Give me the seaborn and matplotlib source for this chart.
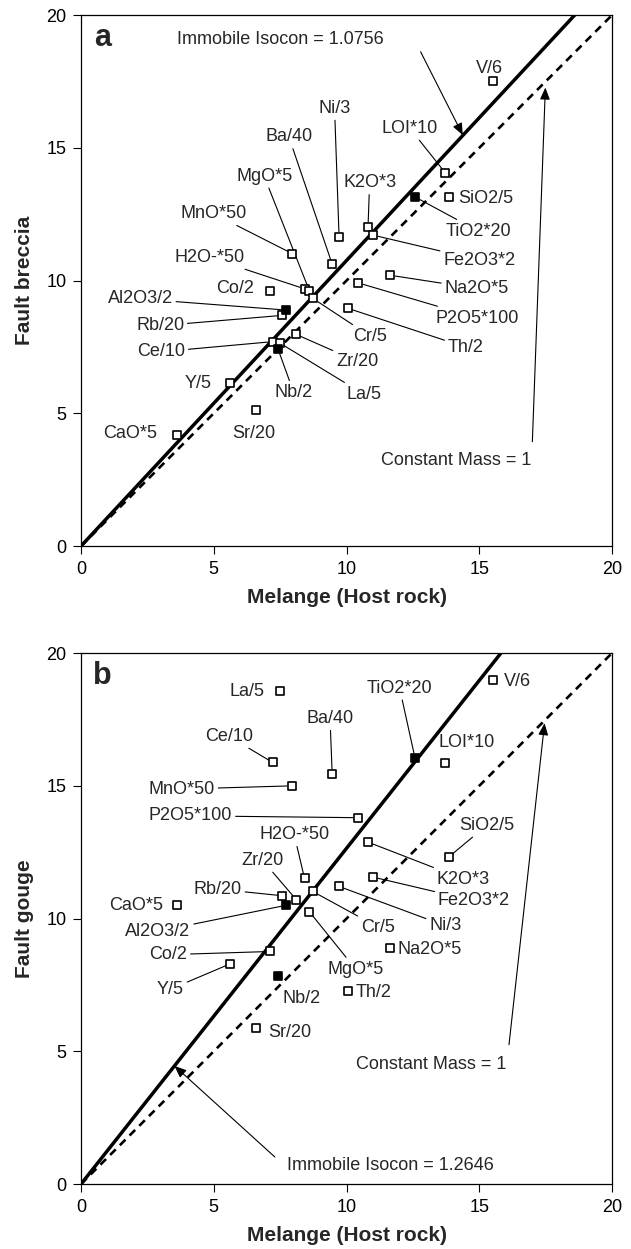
import numpy as np
import pandas as pd
import matplotlib
matplotlib.use("Agg")
import matplotlib.pyplot as plt
import seaborn as sns

# element labels (normalised concentrations)
elements = ["CaO*5", "Y/5", "Sr/20", "Co/2", "Ce/10", "Nb/2", "La/5", "Rb/20",
            "Al2O3/2", "MnO*50", "Zr/20", "H2O-*50", "MgO*5", "Cr/5", "Ba/40",
            "Ni/3", "Th/2", "P2O5*100", "K2O*3", "Fe2O3*2", "Na2O*5",
            "TiO2*20", "LOI*10", "SiO2/5", "V/6"]
# melange (host rock) values, shared by both panels
host = [3.62, 5.63, 6.60, 7.12, 7.22, 7.42, 7.50, 7.58, 7.72, 7.95, 8.11, 8.42,
        8.60, 8.73, 9.46, 9.72, 10.04, 10.45, 10.81, 11.01, 11.65, 12.58, 13.72,
        13.85, 15.50]
breccia = [4.20, 6.15, 5.11, 9.61, 7.70, 7.42, 7.64, 8.69, 8.89, 11.02, 7.97, 9.69,
           9.62, 9.33, 10.62, 11.65, 8.96, 9.91, 12.02, 11.71, 10.20, 13.15, 14.06,
           13.15, 17.51]
gouge = [10.51, 8.30, 5.86, 8.76, 15.88, 7.82, 18.59, 10.86, 10.50, 15.00, 10.71,
         11.51, 10.26, 11.02, 15.44, 11.21, 7.29, 13.80, 12.88, 11.56, 8.89, 16.05,
         15.86, 12.32, 19.00]
immobile = ["Al2O3/2", "Nb/2", "TiO2*20"]
isocon_a = 1.0756
isocon_b = 1.2646

df = pd.DataFrame({"element": elements, "host": host,
                   "breccia": breccia, "gouge": gouge})
df["immobile"] = df["element"].isin(immobile)

# label placement: element -> (x, y, ha, leader line)
labels_a = {
    "V/6": (15.37, 17.99, "center", False), "Ni/3": (9.55, 16.48, "center", True),
    "Ba/40": (7.83, 15.41, "center", True), "LOI*10": (12.39, 15.73, "center", True),
    "MgO*5": (6.9, 13.93, "center", True), "K2O*3": (10.87, 13.68, "center", True),
    "SiO2/5": (14.2, 13.1, "left", False), "MnO*50": (4.99, 12.52, "center", True),
    "TiO2*20": (14.97, 11.86, "center", True), "H2O-*50": (4.83, 10.87, "center", True),
    "Fe2O3*2": (15.0, 10.77, "center", True), "Co/2": (5.82, 9.7, "center", False),
    "Na2O*5": (14.9, 9.7, "center", True), "P2O5*100": (14.93, 8.59, "center", True),
    "Th/2": (14.49, 7.49, "center", True), "Al2O3/2": (2.23, 9.31, "center", True),
    "Rb/20": (2.98, 8.3, "center", True), "Ce/10": (3.02, 7.32, "center", True),
    "Cr/5": (10.9, 7.9, "center", True), "Zr/20": (10.4, 6.96, "center", True),
    "Y/5": (4.43, 6.14, "center", False), "Nb/2": (8.01, 5.79, "center", True),
    "La/5": (10.65, 5.72, "center", True), "Sr/20": (6.5, 4.25, "center", False),
    "CaO*5": (1.85, 4.24, "center", False),
}
labels_b = {
    "V/6": (15.94, 18.93, "left", False), "La/5": (6.24, 18.56, "center", False),
    "TiO2*20": (12.0, 18.68, "center", True), "Ba/40": (9.38, 17.53, "center", True),
    "Ce/10": (5.58, 16.86, "center", True), "LOI*10": (14.54, 16.64, "center", False),
    "MnO*50": (3.8, 14.88, "center", True), "P2O5*100": (4.13, 13.87, "center", True),
    "SiO2/5": (15.28, 13.51, "center", True), "H2O-*50": (8.03, 13.16, "center", True),
    "Zr/20": (6.84, 12.19, "center", True), "K2O*3": (14.4, 11.49, "center", True),
    "Rb/20": (5.15, 11.11, "center", True), "Fe2O3*2": (14.8, 10.67, "center", True),
    "CaO*5": (2.08, 10.48, "center", False), "Al2O3/2": (2.9, 9.52, "center", True),
    "Cr/5": (11.18, 9.68, "center", True), "Ni/3": (13.72, 9.73, "center", True),
    "MgO*5": (10.34, 8.1, "center", True), "Co/2": (3.29, 8.64, "center", True),
    "Na2O*5": (11.93, 8.85, "left", False), "Y/5": (3.37, 7.34, "center", True),
    "Nb/2": (8.29, 7.0, "center", False), "Th/2": (10.34, 7.2, "left", False),
    "Sr/20": (7.04, 5.71, "left", False),
}

sns.set_theme(style="ticks")
plt.rcParams["font.family"] = ["Liberation Sans", "DejaVu Sans"]

fig = plt.figure(figsize=(6.31, 12.49), dpi=100)
ax_a = fig.add_axes([0.1284, 0.5628, 0.8415, 0.4251])
ax_b = fig.add_axes([0.1284, 0.0520, 0.8415, 0.4251])

FS = 13


def panel(ax, ycol, slope, labels, letter, ylabel, iso_text, iso_arrow, cm_text, cm_arrow):
    xs = np.array([0, 20])
    sns.lineplot(x=xs, y=xs * slope, ax=ax, color="black", lw=2.5)
    sns.lineplot(x=xs, y=xs, ax=ax, color="black", lw=1.9, dashes=False,
                 linestyle=(0, (3, 2.2)))
    sub = df[~df["immobile"]]
    sns.scatterplot(data=sub, x="host", y=ycol, ax=ax, marker="s", s=40,
                    color="white", edgecolor="black", linewidth=1.2, zorder=5)
    sub = df[df["immobile"]]
    sns.scatterplot(data=sub, x="host", y=ycol, ax=ax, marker="s", s=40,
                    color="black", edgecolor="black", linewidth=1.2, zorder=5)

    for _, row in df.iterrows():
        tx, ty, ha, leader = labels[row["element"]]
        if leader:
            ax.annotate(row["element"], xy=(row["host"], row[ycol]), xytext=(tx, ty),
                        ha=ha, va="center", fontsize=FS,
                        arrowprops=dict(arrowstyle="-", color="black", lw=0.8,
                                        shrinkA=0, shrinkB=3.5))
        else:
            ax.text(tx, ty, row["element"], ha=ha, va="center", fontsize=FS)

    ax.text(*iso_text[0], iso_text[1], ha="center", va="center", fontsize=FS)
    ax.annotate("", xy=iso_arrow[1], xytext=iso_arrow[0],
                arrowprops=dict(arrowstyle="-|>,head_length=0.6,head_width=0.25",
                                color="black", lw=0.8, shrinkA=0, shrinkB=0))
    ax.text(*cm_text, "Constant Mass = 1", ha="center", va="center", fontsize=FS)
    ax.annotate("", xy=cm_arrow[1], xytext=cm_arrow[0],
                arrowprops=dict(arrowstyle="-|>,head_length=0.6,head_width=0.25",
                                color="black", lw=0.8, shrinkA=0, shrinkB=0))

    ax.text(0.82, 19.12, letter, fontsize=22, fontweight="bold", ha="center", va="center")
    ax.set_xlim(0, 20)
    ax.set_ylim(0, 20)
    ax.set_xticks([0, 5, 10, 15, 20])
    ax.set_yticks([0, 5, 10, 15, 20])
    ax.tick_params(labelsize=FS, direction="out", length=5.5, width=0.8,
                   pad=5, colors="black")
    for s in ax.spines.values():
        s.set_linewidth(0.9)
        s.set_color("black")
    ax.set_xlabel("Melange (Host rock)", fontsize=15, fontweight="bold")
    ax.set_ylabel(ylabel, fontsize=15, fontweight="bold")
    ax.xaxis.set_label_coords(0.5, -0.079)
    ax.yaxis.set_label_coords(-0.088, 0.5)


panel(ax_a, "breccia", isocon_a, labels_a, "a", "Fault breccia",
      ((7.5, 19.1), "Immobile Isocon = 1.0756"), ((12.79, 18.62), (14.38, 15.48)),
      (14.12, 3.22), ((17.0, 3.93), (17.49, 17.27)))
panel(ax_b, "gouge", isocon_b, labels_b, "b", "Fault gouge",
      ((11.67, 0.7), "Immobile Isocon = 1.2646"), ((7.3, 1.02), (3.52, 4.45)),
      (13.19, 4.5), ((16.12, 5.25), (17.46, 17.36)))

fig.savefig("out.png", dpi=100)
